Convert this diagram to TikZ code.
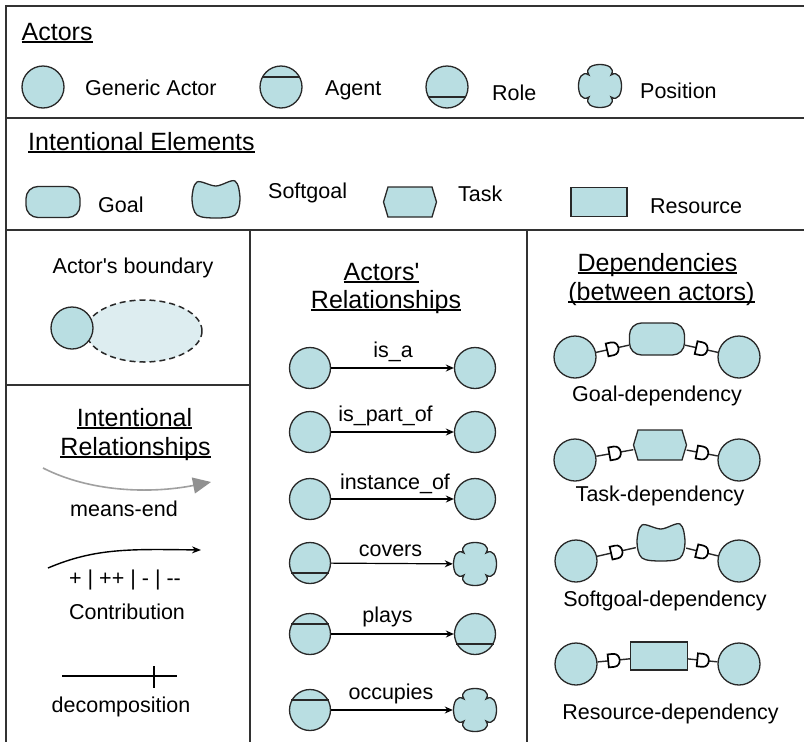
\documentclass[tikz,border=0pt]{standalone}
\usepackage{fontspec}
\setmainfont{Liberation Sans}
\usetikzlibrary{arrows.meta,decorations.markings,shapes.geometric}
\definecolor{fillc}{RGB}{185,222,226}
\definecolor{bndc}{RGB}{221,237,240}
\definecolor{edgec}{RGB}{40,40,40}
\definecolor{framec}{RGB}{50,50,50}
\definecolor{meansc}{RGB}{160,160,160}
\definecolor{meanshead}{RGB}{145,145,145}
\newcommand\ulin[1]{\setbox0\hbox{#1}\rlap{\rule[-2.6pt]{\wd0}{1.3pt}}\box0}
\tikzset{
  frameline/.style={draw=framec, line width=2pt},
  elem/.style={draw=edgec, fill=fillc, line width=1.3pt},
  actor/.style={elem, circle, minimum size=42pt, inner sep=0pt},
  anchorbox/.style={rectangle, draw=none, inner sep=0pt},
  goalbox/.style={elem, rectangle, rounded corners=12pt, minimum width=54pt, minimum height=31pt, inner sep=0pt},
  resbox/.style={elem, rectangle, minimum width=56pt, minimum height=29pt, inner sep=0pt},
  chord/.style={draw=edgec, line width=1.3pt},
  lbl/.style={font=\fontsize{21.5}{24}\selectfont, inner sep=0pt, anchor=base},
  ttl/.style={font=\fontsize{25}{28}\selectfont, inner sep=0pt, anchor=base},
  relarrow/.style={draw=black, line width=1.2pt, -{Stealth[length=8pt,width=7pt]}},
  meansend/.style={draw=meansc, line width=1.6pt, -{Triangle[length=18pt,width=16pt,fill=meanshead,color=meanshead]}},
  contrib/.style={draw=black, line width=1.4pt, -{Stealth[length=9pt,width=7pt]}},
  decomp/.style={draw=black, line width=1.3pt},
  dep/.style={draw=edgec, line width=1.4pt, postaction={decorate},
    decoration={markings, mark=at position 0.5 with {\draw[draw=black, line width=1.7pt, fill=white] (-5.5,-6.5) -- (0,-6.5) .. controls (8,-6.5) and (8,6.5) .. (0,6.5) -- (-5.5,6.5) -- cycle;}}},
  posshape/.pic={\draw[elem] (11,-11) .. controls (25,-20) and (25,20) .. (11,11) .. controls (20,25) and (-20,25) .. (-11,11) .. controls (-25,20) and (-25,-20) .. (-11,-11) .. controls (-20,-25) and (20,-25) .. cycle;},
  softshape/.pic={\draw[elem] plot[smooth cycle, tension=0.55] coordinates {(-24,0) (-19,-17) (0,-13) (19,-18) (24,0) (19,16) (0,19) (-19,16)};},
  taskshape/.pic={\draw[elem] (-26.5,0) -- (-22,-15) -- (22,-15) -- (26.5,0) -- (22,15) -- (-22,15) -- cycle;},
}
\newcommand\agentline[1]{\draw[chord] ([shift={(-18.6,-10)}]#1.center) -- ([shift={(18.6,-10)}]#1.center);}
\newcommand\roleline[1]{\draw[chord] ([shift={(-18.6,10)}]#1.center) -- ([shift={(18.6,10)}]#1.center);}
\begin{document}
\begin{tikzpicture}[x=1pt,y=-1pt]
\useasboundingbox (0,0) rectangle (804,742);
\fill[white] (0,0) rectangle (804,742);
% frame and dividers
\draw[frameline] (6,742) -- (6,6) -- (804,6);
\draw[frameline] (6,118) -- (804,118);
\draw[frameline] (6,230) -- (804,230);
\draw[frameline] (250,230) -- (250,742);
\draw[frameline] (527,230) -- (527,742);
\draw[frameline] (6,385) -- (250,385);

% ---------- Actors row ----------
\node[ttl, anchor=base west] (tActors) at (21.5,40) {\ulin{Actors}};
\node[actor] (ga) at (43,87) {};
\node[lbl, anchor=base west] (lga) at (85,95) {Generic Actor};
\node[actor] (ag) at (281,87) {};
\agentline{ag}
\node[lbl, anchor=base west] (lag) at (325,95) {Agent};
\node[actor] (ro) at (447,87) {};
\roleline{ro}
\node[lbl, anchor=base west] (lro) at (492,100) {Role};
\node[anchorbox, minimum size=44pt] (po) at (600,86) {};
\pic at (po.center) {posshape};
\node[lbl, anchor=base west] (lpo) at (640,98) {Position};

% ---------- Intentional elements row ----------
\node[ttl, anchor=base west] (tIE) at (28,150) {\ulin{Intentional Elements}};
\node[goalbox] (go) at (53,202) {};
\node[lbl, anchor=base west] (lgo) at (98,212) {Goal};
\node[anchorbox, minimum width=50pt, minimum height=38pt] (sg) at (216,199) {};
\pic at (sg.center) {softshape};
\node[lbl, anchor=base west] (lsg) at (268,198) {Softgoal};
\node[anchorbox, minimum width=53pt, minimum height=30pt] (ta) at (410,202) {};
\pic at (ta.center) {taskshape};
\node[lbl, anchor=base west] (lta) at (458,201) {Task};
\node[resbox] (re) at (599,202) {};
\node[lbl, anchor=base west] (lre) at (650,213) {Resource};

% ---------- Actor's boundary ----------
\node[lbl] (lbd) at (133,273) {Actor\textquotesingle s boundary};
\node[ellipse, draw=edgec, dashed, dash pattern=on 6pt off 4pt, line width=1.5pt, fill=bndc, minimum width=116pt, minimum height=62pt, inner sep=0pt] (bd) at (144,331) {};
\node[actor] (bda) at (72,328) {};

% ---------- Intentional relationships ----------
\node[ttl] (tIR1) at (134.5,426) {\ulin{Intentional}};
\node[ttl] (tIR2) at (135.5,455) {\ulin{Relationships}};
\coordinate (me1) at (43,468);
\coordinate (me2) at (211,482);
\draw[meansend] (me1) .. controls (90,492) and (150,494) .. (me2);
\node[lbl] (lme) at (124,516) {means-end};
\coordinate (co1) at (48,568);
\coordinate (co2) at (201,550);
\draw[contrib] (co1) .. controls (95,548) and (130,549) .. (co2);
\node[lbl] (lsigns) at (125,585) {+ | ++ | - | -{}-};
\node[lbl] (lco) at (127,619) {Contribution};
\coordinate (de1) at (62,676);
\coordinate (de2) at (177,676);
\coordinate (dt1) at (154,666);
\coordinate (dt2) at (154,688);
\draw[decomp] (de1) -- (de2);
\draw[decomp] (dt1) -- (dt2);
\node[lbl] (lde) at (121,712) {decomposition};

% ---------- Actors' relationships ----------
\node[ttl] (tAR1) at (381.5,280) {\ulin{Actors\textquotesingle}};
\node[ttl] (tAR2) at (386,308) {\ulin{Relationships}};
% is_a
\node[actor, minimum size=41pt] (r1a) at (310,368) {};
\node[actor, minimum size=41pt] (r1b) at (475,368) {};
\draw[relarrow] (r1a) -- (r1b);
\node[lbl] (l1) at (393,357) {is\_a};
% is_part_of
\node[actor, minimum size=41pt] (r2a) at (310,432) {};
\node[actor, minimum size=41pt] (r2b) at (475,432) {};
\draw[relarrow] (r2a) -- (r2b);
\node[lbl] (l2) at (385.5,421) {is\_part\_of};
% instance_of
\node[actor, minimum size=41pt] (r3a) at (310,499) {};
\node[actor, minimum size=41pt] (r3b) at (475,499) {};
\draw[relarrow] (r3a) -- (r3b);
\node[lbl] (l3) at (395,489) {instance\_of};
% covers
\node[actor, minimum size=41pt] (r4a) at (310,563) {};
\roleline{r4a}
\node[anchorbox, minimum size=44pt] (r4b) at (475,564) {};
\pic at (r4b.center) {posshape};
\draw[relarrow] (r4a) -- (r4b);
\node[lbl] (l4) at (390.5,556) {covers};
% plays
\node[actor, minimum size=41pt] (r5a) at (310,634) {};
\agentline{r5a}
\node[actor, minimum size=41pt] (r5b) at (475,634) {};
\roleline{r5b}
\draw[relarrow] (r5a) -- (r5b);
\node[lbl] (l5) at (387.5,622) {plays};
% occupies
\node[actor, minimum size=41pt] (r6a) at (310,710) {};
\agentline{r6a}
\node[anchorbox, minimum size=44pt] (r6b) at (475,710) {};
\pic at (r6b.center) {posshape};
\draw[relarrow] (r6a) -- (r6b);
\node[lbl] (l6) at (391,699) {occupies};

% ---------- Dependencies ----------
\node[ttl] (tD1) at (657.5,271) {\ulin{Dependencies}};
\node[ttl] (tD2) at (661.5,300) {\ulin{(between actors)}};
% goal dependency
\node[actor] (d1a) at (575,357) {};
\node[actor] (d1b) at (739,357) {};
\node[goalbox, minimum width=55pt, minimum height=32pt] (d1g) at (657,339) {};
\draw[dep] (d1a) -- (d1g);
\draw[dep] (d1g) -- (d1b);
\node[lbl] (ld1) at (657,401) {Goal-dependency};
% task dependency
\node[actor] (d2a) at (575,460) {};
\node[actor] (d2b) at (739,460) {};
\node[anchorbox, minimum width=53pt, minimum height=30pt] (d2t) at (660,445) {};
\pic at (d2t.center) {taskshape};
\draw[dep] (d2a) -- (d2t);
\draw[dep] (d2t) -- (d2b);
\node[lbl] (ld2) at (660,501) {Task-dependency};
% softgoal dependency
\node[actor] (d3a) at (576,561) {};
\node[actor] (d3b) at (739,561) {};
\node[anchorbox, minimum width=50pt, minimum height=38pt] (d3s) at (661,542) {};
\pic at (d3s.center) {softshape};
\draw[dep] (d3a) -- (d3s);
\draw[dep] (d3s) -- (d3b);
\node[lbl] (ld3) at (665,606) {Softgoal-dependency};
% resource dependency
\node[actor] (d4a) at (576,664) {};
\node[actor] (d4b) at (739,664) {};
\node[resbox, minimum width=57pt, minimum height=28pt] (d4r) at (659,656) {};
\draw[dep] (d4a) -- (d4r);
\draw[dep] (d4r) -- (d4b);
\node[lbl] (ld4) at (670.5,719) {Resource-dependency};
\end{tikzpicture}
\end{document}
